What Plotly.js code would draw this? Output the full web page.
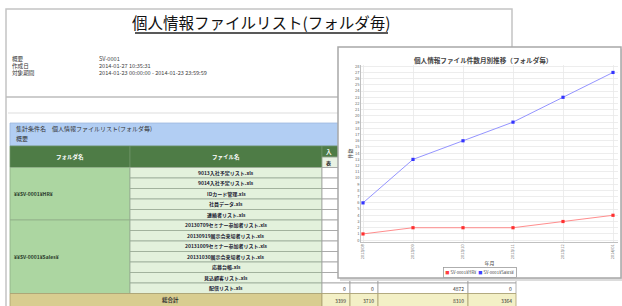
<!DOCTYPE html>
<html>
<head>
<meta charset="utf-8">
<script src="https://cdn.plot.ly/plotly-3.0.1.min.js"></script>
<style>html,body{margin:0;padding:0;background:#fff;}#chart{width:622px;height:306px;}</style>
</head>
<body>
<div id="chart"></div>
<script>
// ---- data ----
const months = ['2013/08', '2013/09', '2013/10', '2013/11', '2013/12', '2014/01'];
const hrCounts = [1, 2, 2, 2, 3, 4];
const salesCounts = [6, 13, 16, 19, 23, 27];
const seriesNames = ['SV-0001¥HR¥', 'SV-0001¥Sales¥'];
const chartTitle = '個人情報ファイル件数月別推移（フォルダ毎）';
const xAxisTitle = '年月';
const yAxisTitle = '件数';

const reportTitle = '個人情報ファイルリスト(フォルダ毎)';
const infoLabels = ['概要', '作成日', '対象期間'];
const infoValues = ['SV-0001', '2014-01-27 10:35:31', '2014-01-23 00:00:00 - 2014-01-23 23:59:59'];
const conditionLines = ['集計条件名　個人情報ファイルリスト(フォルダ毎)', '概要'];
const headerLabels = ['フォルダ名', 'ファイル名'];
const subHeaderLabels = ['入', '表'];
const folderNames = ['¥¥SV-0001¥HR¥', '¥¥SV-0001¥Sales¥'];
const hrFiles = ['9013入社予定リスト.xls', '9014入社予定リスト.xls', 'IDカード管理.xls', '社員データ.xls', '連絡者リスト.xls'];
const salesFiles = ['20130709セミナー参加者リスト.xls', '20130919展示会来場者リスト.xls', '20131009セミナー参加者リスト.xls', '20131030展示会来場者リスト.xls', '応募台帳.xls', '見込顧客リスト.xls', '配信リスト.xls'];
const lastRowValues = ['0', '0', '4872', '0'];
const totalLabel = '総合計';
const totalValues = ['3399', '3710', '8310', '3364'];

// ---- helpers (pixel -> paper) ----
const W = 622, H = 306;
const FONT = '"Noto Sans CJK JP", "Noto Sans", sans-serif';
const X = p => p / W;
const Y = p => 1 - p / H;
const shapes = [];
const annotations = [];
function rect(x0, y0, x1, y1, fill, lineColor, lw) {
  shapes.push({type: 'rect', xref: 'paper', yref: 'paper', layer: 'below',
    x0: X(x0), x1: X(x1), y0: Y(y1), y1: Y(y0), fillcolor: fill,
    line: {color: lineColor || 'rgba(0,0,0,0)', width: lineColor ? (lw || 1) : 0}});
}
function line(x0, y0, x1, y1, color, lw) {
  shapes.push({type: 'line', xref: 'paper', yref: 'paper', layer: 'below',
    x0: X(x0), x1: X(x1), y0: Y(y0), y1: Y(y1), line: {color: color, width: lw || 1}});
}
function text(x, y, t, size, color, anchor, bold) {
  annotations.push({xref: 'paper', yref: 'paper', x: X(x), y: Y(y), text: bold ? '<b>' + t + '</b>' : t,
    showarrow: false, xanchor: anchor || 'left', yanchor: 'middle',
    font: {size: size, color: color || '#333', family: FONT}});
}

// ---- report page ----
rect(6, 9, 512, 420, '#ffffff', '#c4c4c4', 1.5);
text(261, 22, reportTitle, 15.5, '#111', 'center');
line(135, 33, 388, 33, '#222', 1.3);
infoLabels.forEach((t, i) => text(10, 59 + i * 7, t, 5.6, '#333'));
infoValues.forEach((t, i) => text(97, 59 + i * 7, t, 5.6, '#444'));
line(6, 97, 512, 97, '#bdbdbd', 1.5);
line(8, 113, 512, 113, '#dddddd', 1);

// condition band
rect(10, 123, 512, 146, '#b2cef3', '#9db8dd', 0.8);
text(14, 128, conditionLines[0], 6, '#333');
text(14, 139, conditionLines[1], 6, '#333');

// table header
const colL = 10, colF = 130, colV = 322;
const colEdges = [322, 350, 378, 468, 516];
rect(colL, 146, colF, 167.5, '#4e7c46', '#6c9264', 0.8);
rect(colF, 146, colV, 167.5, '#4e7c46', '#6c9264', 0.8);
text((colL + colF) / 2, 157, headerLabels[0], 5.5, '#ffffff', 'center', true);
text((colF + colV) / 2, 157, headerLabels[1], 5.5, '#ffffff', 'center', true);
for (let c = 0; c < 4; c++) {
  rect(colEdges[c], 146, colEdges[c + 1], 157, '#4e7c46', '#6c9264', 0.8);
  rect(colEdges[c], 157, colEdges[c + 1], 167.5, '#e9f2e4', '#8c9c88', 0.8);
}
text(324, 151.5, subHeaderLabels[0], 5.5, '#ffffff', 'left', true);
text(324, 162.5, subHeaderLabels[1], 5, '#333', 'left', true);

// table body
const r0 = 167.5, rh = 10.5;
const groups = [hrFiles, salesFiles];
let row = 0;
groups.forEach((files, g) => {
  const top = r0 + row * rh, bottom = r0 + (row + files.length) * rh;
  rect(colL, top, colF, bottom, '#acd6a1', '#8fae88', 0.8);
  text(12, (top + bottom) / 2, folderNames[g], 5, '#2a3a2a', 'left', true);
  files.forEach((f, k) => {
    const y0 = r0 + (row + k) * rh;
    rect(colF, y0, colV, y0 + rh, '#e3f1dc', '#98a894', 0.8);
    text((colF + colV) / 2, y0 + rh / 2, f, 5, '#223', 'center', true);
    for (let c = 0; c < 4; c++) rect(colEdges[c], y0, colEdges[c + 1], y0 + rh, '#ffffff', '#a0a0a0', 0.8);
  });
  row += files.length;
});
const lastTop = r0 + (row - 1) * rh;
lastRowValues.forEach((v, c) => text(colEdges[c + 1] - 2.5, lastTop + rh / 2, v, 5, '#333', 'right'));
const totTop = r0 + row * rh;
rect(colL, totTop, colV, totTop + 13, '#d8cd90', '#a9a070', 0.8);
text(170, totTop + 6.5, totalLabel, 5.5, '#333', 'center', true);
totalValues.forEach((v, c) => {
  rect(colEdges[c], totTop, colEdges[c + 1], totTop + 13, '#f3f0c6', '#a9a070', 0.8);
  text(colEdges[c + 1] - 2.5, totTop + 6.5, v, 5, '#333', 'right');
});

// ---- chart window ----
rect(340, 49, 624, 281, '#dcdcdc');
rect(338, 47, 621, 278, '#ffffff', '#a8a8a8', 1.5);
text(483, 60, chartTitle, 6.6, '#444', 'center', true);
// legend (manual)
annotations.push({xref: 'paper', yref: 'paper', x: X(480), y: Y(272.5), showarrow: false,
  xanchor: 'center', yanchor: 'middle',
  text: '<span style="color:#ff4040">■</span> ' + seriesNames[0] + '  <span style="color:#4040ff">■</span> ' + seriesNames[1],
  font: {size: 4.2, color: '#444', family: FONT}, bordercolor: '#9a9a9a', borderwidth: 0.8, borderpad: 1.5, bgcolor: '#ffffff'});

const traces = [
  {x: months, y: hrCounts, name: seriesNames[0], type: 'scatter', mode: 'lines+markers',
   line: {color: '#ff8080', width: 0.9}, marker: {color: '#ff3030', size: 3.2, symbol: 'square'}, cliponaxis: false},
  {x: months, y: salesCounts, name: seriesNames[1], type: 'scatter', mode: 'lines+markers',
   line: {color: '#8888ff', width: 0.9}, marker: {color: '#3434ff', size: 3.2, symbol: 'square'}, cliponaxis: false}
];

const layout = {
  width: W, height: H,
  margin: {l: 0, r: 0, t: 0, b: 0, pad: 0},
  paper_bgcolor: '#ffffff', plot_bgcolor: '#ffffff',
  showlegend: false,
  font: {family: FONT, color: '#444'},
  xaxis: {
    type: 'category', domain: [X(361), X(618)], range: [-0.04, 5.1],
    showgrid: true, gridcolor: '#e8e8e8', gridwidth: 0.8, zeroline: false,
    showline: true, linecolor: '#b0b0b0', linewidth: 0.8, ticks: '',
    tickangle: -90, tickfont: {size: 4, color: '#666'},
    title: {text: xAxisTitle, font: {size: 5, color: '#444'}, standoff: 3}
  },
  yaxis: {
    domain: [Y(242), Y(65)], range: [-0.3, 28.2], dtick: 1, tick0: 0,
    showgrid: true, gridcolor: '#e8e8e8', gridwidth: 0.8, zeroline: false,
    showline: true, linecolor: '#b0b0b0', linewidth: 0.8, ticks: '',
    tickfont: {size: 4, color: '#666'},
    title: {text: yAxisTitle, font: {size: 5, color: '#444'}, standoff: 2}
  },
  shapes: shapes,
  annotations: annotations
};

Plotly.newPlot('chart', traces, layout, {staticPlot: true, displayModeBar: false});
</script>
</body>
</html>
